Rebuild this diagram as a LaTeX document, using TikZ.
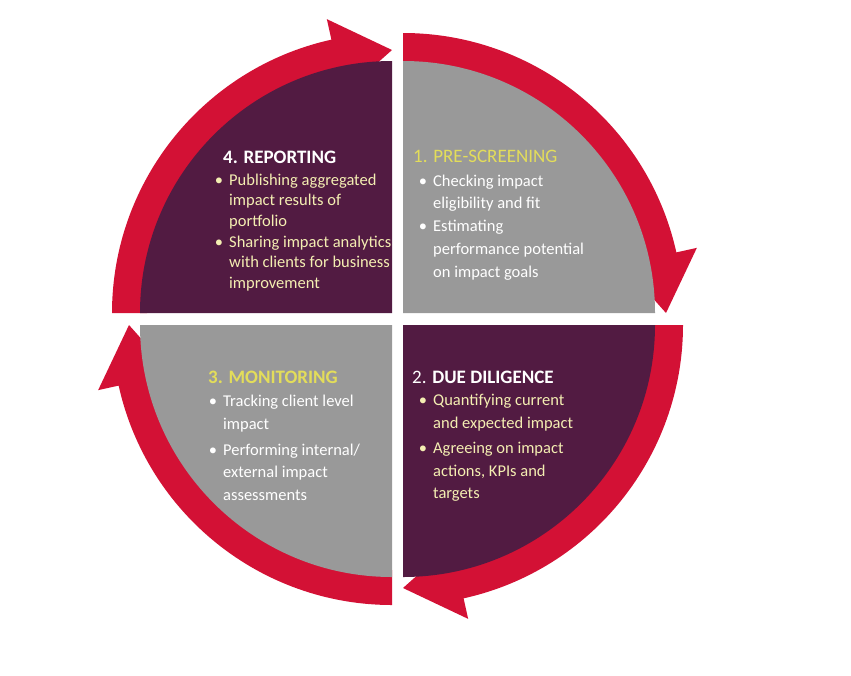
\documentclass[tikz,border=0pt]{standalone}
\usepackage{fontspec}
\setmainfont{Carlito}
\definecolor{plum}{HTML}{521B42}
\definecolor{qgray}{HTML}{999999}
\definecolor{cred}{HTML}{D31135}
\definecolor{ttlyel}{HTML}{E3DD5A}
\definecolor{bodyyel}{HTML}{F4EEB2}
\newcommand\mybul{\llap{•\hspace{6pt}}}
\newcommand\redarc[2]{%
  \begin{scope}[shift={(#1)}]
    \fill[cred] (#2:245) -- (#2:280)
      arc[start angle=#2, end angle=#2+77.5, radius=280]
      -- ({#2+77.5}:301) -- ({#2+90}:263) -- ({#2+77.5}:225) -- ({#2+77.5}:245)
      arc[start angle=#2+77.5, end angle=#2, radius=245] -- cycle;
  \end{scope}}
\tikzset{
  ttl/.style={anchor=base west, inner sep=0pt, font=\fontsize{19}{22}\selectfont},
  body/.style={anchor=base west, inner sep=0pt, align=left},
}
\begin{document}
\begin{tikzpicture}[x=1pt,y=-1pt]
\useasboundingbox (0,0) rectangle (851,675);
\coordinate (c1) at (403,313);
\coordinate (c2) at (403,325);
\coordinate (c3) at (392,325);
\coordinate (c4) at (392,313);
% red arrows
\redarc{c1}{-90}
\redarc{c2}{0}
\redarc{c3}{90}
\redarc{c4}{180}
% quadrants
\fill[qgray] (c1) -- ++(0,-252) arc[start angle=-90, end angle=0, radius=252] -- cycle;
\fill[plum] (c2) -- ++(252,0) arc[start angle=0, end angle=90, radius=252] -- cycle;
\fill[qgray] (c3) -- ++(0,252) arc[start angle=90, end angle=180, radius=252] -- cycle;
\fill[plum] (c4) -- ++(-252,0) arc[start angle=180, end angle=270, radius=252] -- cycle;
% titles
\node[ttl, text=white, font=\fontsize{19}{22}\selectfont\bfseries] (t4) at (223,163) {4. REPORTING};
\node[ttl, text=ttlyel] (t1) at (413,162) {1. PRE-SCREENING};
\node[ttl, text=ttlyel, font=\fontsize{19}{22}\selectfont\bfseries] (t3) at (208,383) {3. MONITORING};
\node[ttl, text=white] (t2) at (412,383) {2. \textbf{DUE DILIGENCE}};
% bodies (base anchor = last line's baseline)
\node[body, text=bodyyel, font=\fontsize{16.5}{20.7}\selectfont] (b4) at (229,288.5)
  {\mybul Publishing aggregated\\ impact results of\\ portfolio\\ \mybul Sharing impact analytics\\ with clients for business\\ improvement};
\node[body, text=white, font=\fontsize{16.5}{22.7}\selectfont] (b1) at (433,277)
  {\mybul Checking impact\\ eligibility and fit\\ \mybul Estimating\\ performance potential\\ on impact goals};
\node[body, text=white, font=\fontsize{16.5}{22.4}\selectfont] (b3) at (223,500)
  {\mybul Tracking client level\\ impact\\[3.5pt] \mybul Performing internal/\\ external impact\\ assessments};
\node[body, text=bodyyel, font=\fontsize{16.5}{22.4}\selectfont] (b2) at (433,498.5)
  {\mybul Quantifying current\\ and expected impact\\[3pt] \mybul Agreeing on impact\\ actions, KPIs and\\ targets};
\end{tikzpicture}
\end{document}
